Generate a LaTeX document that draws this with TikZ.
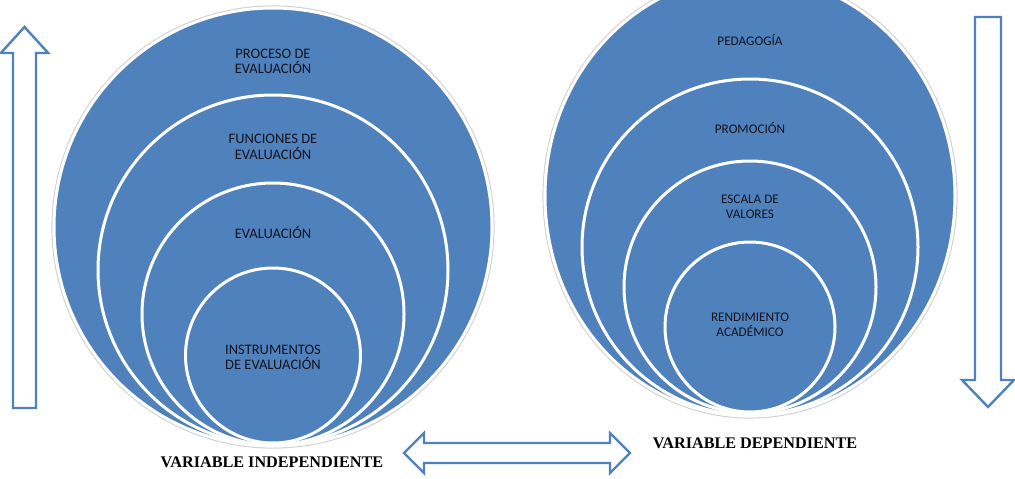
\documentclass[tikz,border=0pt]{standalone}
\usepackage{fontspec}
\setmainfont{Liberation Serif}
\newfontfamily\cali{Carlito}
\definecolor{accent}{RGB}{79,129,189}
\definecolor{txt}{RGB}{20,20,30}
\tikzset{
  ring/.style={fill=accent, draw=white, line width=3pt},
  halo/.style={draw=black!18, line width=1.2pt},
  lbig/.style={font=\cali\fontsize{14.5}{15.5}\selectfont, text=txt, align=center, inner sep=0pt},
  lsmall/.style={font=\cali\fontsize{13.2}{15}\selectfont, text=txt, align=center, inner sep=0pt},
  caption/.style={font=\bfseries\fontsize{16.2}{17}\selectfont, text=black, inner sep=0pt},
  blockarrow/.style={draw=accent, fill=white, line width=2.4pt, line join=miter}
}
\begin{document}
\begin{tikzpicture}[x=1pt,y=-1pt]
\useasboundingbox (0,0) rectangle (1015,479);

% ---- left stacked circles ----
\draw[halo] (273,227) circle[radius=221];
\draw[ring] (273,227) circle[radius=219];
\draw[ring] (273,270) circle[radius=175];
\draw[ring] (273,314) circle[radius=131];
\draw[ring] (273,355.5) circle[radius=87.5];

\node[lbig] (t1) at (273,61.5) {PROCESO DE\\EVALUACIÓN};
\node[lbig] (t2) at (273,147) {FUNCIONES DE\\EVALUACIÓN};
\node[lbig] (t3) at (273,232) {EVALUACIÓN};
\node[lbig] (t4) at (273,357.5) {INSTRUMENTOS\\DE EVALUACIÓN};

% ---- right stacked circles ----
\draw[halo] (750,196) ellipse[x radius=207, y radius=222];
\draw[ring] (750,196) ellipse[x radius=205, y radius=220];
\draw[ring] (750,247) circle[radius=168];
\draw[ring] (750,287) circle[radius=126];
\draw[ring] (750,327) circle[radius=85];

\node[lsmall] (r1) at (750,40) {PEDAGOGÍA};
\node[lsmall] (r2) at (750,128) {PROMOCIÓN};
\node[lsmall] (r3) at (750,207) {ESCALA DE\\VALORES};
\node[lsmall] (r4) at (750,325) {RENDIMIENTO\\ACADÉMICO};

% ---- captions ----
\node[caption] (ci) at (272,462) {VARIABLE INDEPENDIENTE};
\node[caption] (cd) at (755,443) {VARIABLE DEPENDIENTE};

% ---- block arrows ----
\draw[blockarrow] (13,408) -- (13,53) -- (0.8,53) -- (24.5,27) -- (48.2,53) -- (36,53) -- (36,408) -- cycle;
\draw[blockarrow] (975,17) -- (975,380) -- (962,380) -- (988,407) -- (1014,380) -- (1001,380) -- (1001,17) -- cycle;
\draw[blockarrow] (404,453) -- (424,433) -- (424,443) -- (610,443) -- (610,433) -- (630,453) -- (610,473) -- (610,463) -- (424,463) -- (424,473) -- cycle;
\end{tikzpicture}
\end{document}
